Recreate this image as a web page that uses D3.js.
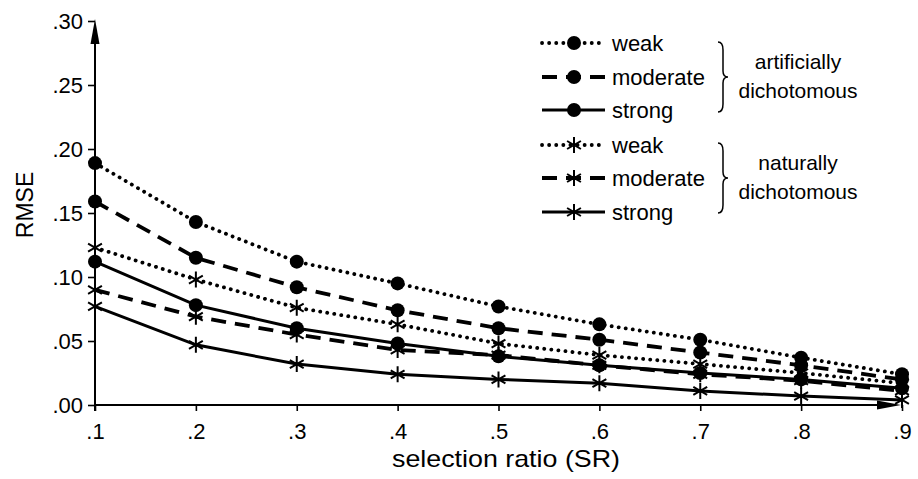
<!DOCTYPE html>
<html><head><meta charset="utf-8">
<script src="https://cdn.jsdelivr.net/npm/d3@7"></script>
<style>body{margin:0;background:#fff}svg{display:block}text{font-family:"Liberation Sans",Arial,sans-serif;fill:#000}</style>
</head><body><svg id="c" width="918" height="479"></svg>
<script>
const ratios = [0.1,0.2,0.3,0.4,0.5,0.6,0.7,0.8,0.9];
const xTickLabels = [".1",".2",".3",".4",".5",".6",".7",".8",".9"];
const yTickValues = [0,0.05,0.10,0.15,0.20,0.25,0.30];
const yTickLabels = [".00",".05",".10",".15",".20",".25",".30"];
const artWeak     = [0.189,0.143,0.112,0.095,0.077,0.063,0.051,0.037,0.024];
const artModerate = [0.159,0.115,0.092,0.074,0.060,0.051,0.041,0.031,0.020];
const artStrong   = [0.112,0.078,0.060,0.048,0.038,0.031,0.025,0.020,0.013];
const natWeak     = [0.123,0.098,0.076,0.063,0.048,0.039,0.032,0.025,0.017];
const natModerate = [0.090,0.069,0.055,0.043,0.039,0.031,0.024,0.019,0.011];
const natStrong   = [0.077,0.047,0.032,0.024,0.020,0.017,0.011,0.007,0.004];
const seriesNames = ["weak","moderate","strong","weak","moderate","strong"];
const groupLabels = [["artificially","dichotomous"],["naturally","dichotomous"]];

const series = [
  {name:seriesNames[0], values:artWeak, style:"dot", marker:"circle"},
  {name:seriesNames[1], values:artModerate, style:"dash", marker:"circle"},
  {name:seriesNames[2], values:artStrong, style:"solid", marker:"circle"},
  {name:seriesNames[3], values:natWeak, style:"dot", marker:"star"},
  {name:seriesNames[4], values:natModerate, style:"dash", marker:"star"},
  {name:seriesNames[5], values:natStrong, style:"solid", marker:"star"}
];

const svg = d3.select("#c");
const x = d3.scaleLinear().domain([0.1,0.9]).range([95,902]);
const y = d3.scaleLinear().domain([0,0.30]).range([405,21]);

function styleLine(sel, st){
  sel.attr("fill","none").attr("stroke","#000");
  if(st==="dot") sel.attr("stroke-width",3.8).attr("stroke-dasharray","0.1 7").attr("stroke-linecap","round");
  else if(st==="dash") sel.attr("stroke-width",3.8).attr("stroke-dasharray","15 9");
  else sel.attr("stroke-width",3);
}
function drawMarker(g, type, cx, cy){
  if(type==="circle"){
    g.append("circle").attr("cx",cx).attr("cy",cy).attr("r",7).attr("fill","#000");
  } else {
    const r=8;
    const p = d3.path();
    p.moveTo(cx,cy-r); p.lineTo(cx,cy+r);
    const dx=r*Math.cos(Math.PI/6), dy=r*Math.sin(Math.PI/6);
    p.moveTo(cx-dx,cy-dy); p.lineTo(cx+dx,cy+dy);
    p.moveTo(cx-dx,cy+dy); p.lineTo(cx+dx,cy-dy);
    g.append("path").attr("d",p.toString()).attr("stroke","#000").attr("stroke-width",2).attr("fill","none");
  }
}

// axes
const yAxis = d3.axisLeft(y).tickValues(yTickValues).tickFormat((d,i)=>yTickLabels[i]).tickSize(7).tickPadding(5);
const gy = svg.append("g").attr("transform","translate(95,0)").call(yAxis);
gy.select(".domain").remove();
gy.selectAll(".tick line").attr("stroke","#000").attr("stroke-width",1.6);
gy.selectAll(".tick text").attr("font-size",22).attr("font-family","Liberation Sans, Arial, sans-serif");

const xAxis = d3.axisBottom(x).tickValues(ratios).tickFormat((d,i)=>xTickLabels[i]).tickSize(6).tickPadding(12);
const gx = svg.append("g").attr("transform","translate(0,405)").call(xAxis);
gx.select(".domain").remove();
gx.selectAll(".tick line").attr("stroke","#000").attr("stroke-width",1.6);
gx.selectAll(".tick text").attr("font-size",22).attr("font-family","Liberation Sans, Arial, sans-serif");

svg.append("line").attr("x1",95).attr("x2",95).attr("y1",411).attr("y2",30).attr("stroke","#000").attr("stroke-width",2);
svg.append("path").attr("d","M95,19 L90.5,44 L99.5,44 Z").attr("fill","#000");
svg.append("line").attr("x1",95).attr("x2",885).attr("y1",405).attr("y2",405).attr("stroke","#000").attr("stroke-width",2);
svg.append("path").attr("d","M901,405 L877,400.5 L877,409.5 Z").attr("fill","#000");

svg.append("text").attr("transform","translate(33,205) rotate(-90)").attr("text-anchor","middle")
  .attr("font-size",23).text("RMSE");
svg.append("text").attr("x",506).attr("y",467).attr("text-anchor","middle").attr("font-size",24)
  .attr("textLength",228).attr("lengthAdjust","spacingAndGlyphs").text("selection ratio (SR)");

// series
const line = d3.line().x((d,i)=>x(ratios[i])).y(d=>y(d));
series.forEach(s=>{
  styleLine(svg.append("path").attr("d",line(s.values)), s.style);
});
series.forEach(s=>{
  const g = svg.append("g");
  s.values.forEach((v,i)=>drawMarker(g, s.marker, x(ratios[i]), y(v)));
});

// legend
const rowY = [43,77,110,145,178,212];
series.forEach((s,i)=>{
  const g = svg.append("g");
  styleLine(g.append("line").attr("x1",542).attr("x2",605).attr("y1",rowY[i]).attr("y2",rowY[i]), s.style);
  drawMarker(g, s.marker, 574, rowY[i]);
  g.append("text").attr("x",612).attr("y",rowY[i]).attr("dy","0.35em").attr("font-size",22).text(s.name);
});
function brace(xb, y0, y1, w){
  const ym=(y0+y1)/2, xm=xb+w/2;
  return `M${xb},${y0} Q${xm},${y0} ${xm},${y0+8} L${xm},${ym-6} Q${xm},${ym} ${xb+w},${ym} Q${xm},${ym} ${xm},${ym+6} L${xm},${y1-8} Q${xm},${y1} ${xb},${y1}`;
}
[[42,112],[143,213]].forEach((r,k)=>{
  svg.append("path").attr("d",brace(718,r[0],r[1],10)).attr("fill","none").attr("stroke","#000").attr("stroke-width",1.5);
  const cy=(r[0]+r[1])/2;
  svg.append("text").attr("x",798).attr("y",cy-15).attr("dy","0.35em").attr("text-anchor","middle").attr("font-size",21).text(groupLabels[k][0]);
  svg.append("text").attr("x",798).attr("y",cy+14).attr("dy","0.35em").attr("text-anchor","middle").attr("font-size",21).text(groupLabels[k][1]);
});
</script></body></html>
